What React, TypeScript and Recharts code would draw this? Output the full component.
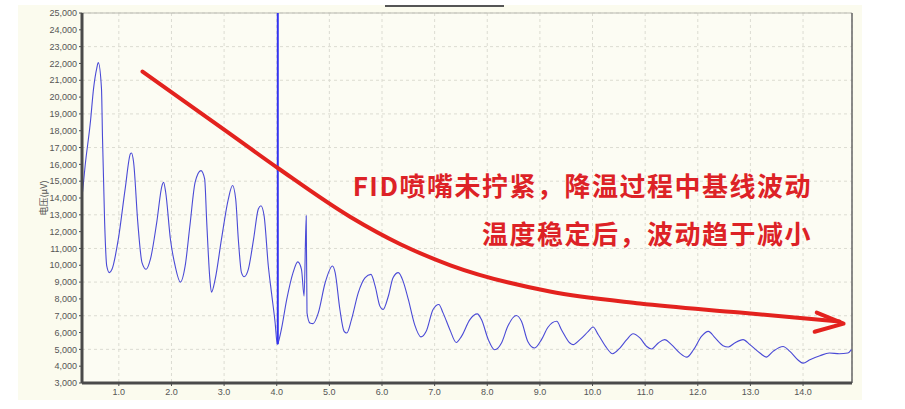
import React from "react";
import { LineChart, Line, XAxis, YAxis, CartesianGrid, ReferenceLine } from "recharts";

const times = [0.31,0.36,0.46,0.52,0.58,0.61,0.67,0.69,0.73,0.77,0.82,0.87,0.99,1.12,1.22,1.24,1.28,1.36,1.44,1.52,1.60,1.72,1.82,1.85,1.89,1.98,2.07,2.17,2.26,2.35,2.45,2.56,2.63,2.67,2.73,2.76,2.83,2.95,3.08,3.16,3.22,3.27,3.33,3.38,3.46,3.56,3.65,3.70,3.76,3.84,3.90,3.97,4.01,4.08,4.19,4.31,4.40,4.47,4.52,4.56,4.575,4.63,4.69,4.79,4.92,5.06,5.11,5.20,5.28,5.33,5.42,5.55,5.68,5.79,5.87,5.96,6.02,6.12,6.21,6.31,6.40,6.50,6.62,6.74,6.84,6.97,7.08,7.16,7.29,7.41,7.51,7.67,7.81,7.89,8.02,8.14,8.27,8.39,8.55,8.65,8.77,8.90,9.03,9.15,9.32,9.41,9.57,9.63,9.76,9.92,10.01,10.11,10.27,10.38,10.52,10.65,10.77,10.90,11.03,11.12,11.25,11.37,11.50,11.66,11.79,11.92,12.07,12.20,12.33,12.48,12.58,12.70,12.86,12.99,13.18,13.30,13.43,13.62,13.75,13.90,14.00,14.13,14.32,14.50,14.69,14.85,14.92];
const signal = [14340,15930,18530,20520,21710,22050,20520,17530,12550,9960,9560,9760,11550,14540,16630,16680,16140,12550,10160,9760,10360,12550,14740,14940,14340,11550,9960,9000,9960,12350,14940,15630,15140,12550,9160,8400,9160,11550,13940,14740,13940,11550,9560,9320,9760,11550,13350,13540,12940,9960,8370,6570,5300,6070,7970,9560,10200,9760,8160,12940,7170,6570,6530,7170,8960,9960,9560,7370,6070,5970,6770,8370,9260,9460,8760,7570,7370,8160,9260,9560,9060,7970,6470,5740,6070,7370,7670,7170,6170,5410,5770,6770,7110,6770,5580,4980,5380,6370,7010,6670,5470,5080,5580,6300,6670,6170,5380,5280,5580,6070,6330,5870,5080,4740,5080,5580,5930,5680,5170,5020,5380,5580,5280,4780,4540,4980,5770,6070,5680,5220,5140,5380,5580,5280,4780,4540,4880,5170,4880,4380,4180,4380,4620,4780,4740,4780,4980];

const arrowX = [1.45,3.06,4.04,5.40,6.35,7.30,9.19,10.90,12.80,14.69];
const arrowY = [21520,17930,15740,12870,11250,10000,8440,7730,7190,6650];
const headX = [14.26,14.77,14.22];
const headY = [7190,6530,6050];

const xTicks = [1,2,3,4,5,6,7,8,9,10,11,12,13,14];
const yTicks = [3000,4000,5000,6000,7000,8000,9000,10000,11000,12000,13000,14000,15000,16000,17000,18000,19000,20000,21000,22000,23000,24000,25000];

const markerTime = 4.02;
const markerBottom = 5300;
const xDomain: [number, number] = [0.3, 14.93];
const yDomain: [number, number] = [3000, 25000];

const yLabel = "电压(µV)";
const note1 = "FID喷嘴未拧紧，降温过程中基线波动";
const note2 = "温度稳定后，波动趋于减小";

const mainData = times.map((t, i) => ({ x: t, y: signal[i] }));
const arrowData = arrowX.map((t, i) => ({ x: t, y: arrowY[i] }));
const headData = headX.map((t, i) => ({ x: t, y: headY[i] }));

const tickStyle = { fontSize: 9, fill: "#555", fontFamily: "'Liberation Sans', Arial, sans-serif" };

export default function App() {
  return (
    <div style={{ position: "absolute", left: 0, top: 0, width: 905, height: 409, background: "#fff", overflow: "hidden" }}>
      <div style={{ position: "absolute", left: 18, top: 5, width: 844, height: 395, background: "#fbfbee" }} />
      <div style={{ position: "absolute", left: 385, top: 5, width: 119, height: 2, background: "#555" }} />
      <div style={{ position: "absolute", left: 0, top: 0 }}>
        <LineChart width={905} height={409} data={mainData} margin={{ top: 13, right: 53, left: 0, bottom: 6 }}>
          <CartesianGrid stroke="#dcdcd2" strokeDasharray="3 3" fill="#fcfcf3" />
          <XAxis
            dataKey="x"
            type="number"
            domain={xDomain}
            ticks={xTicks}
            allowDataOverflow
            tickFormatter={(v: number) => v.toFixed(1)}
            tick={tickStyle}
            tickSize={3}
            tickMargin={3}
            height={20}
            axisLine={{ stroke: "#4a4a4a", strokeWidth: 3 }}
            tickLine={{ stroke: "#4a4a4a" }}
          />
          <YAxis
            type="number"
            domain={yDomain}
            ticks={yTicks}
            allowDataOverflow
            tickFormatter={(v: number) => v.toLocaleString("en-US")}
            tick={tickStyle}
            tickSize={3}
            tickMargin={2}
            width={82}
            axisLine={{ stroke: "#4a4a4a", strokeWidth: 3 }}
            tickLine={{ stroke: "#4a4a4a" }}
          />
          <ReferenceLine y={25000} stroke="#b8b8b0" strokeWidth={1} />
          <ReferenceLine x={14.93} stroke="#666" strokeWidth={1.5} />
          <Line dataKey="y" type="monotone" stroke="#4a4ad6" strokeWidth={1.1} dot={false} isAnimationActive={false} />
          <ReferenceLine
            segment={[{ x: markerTime, y: 25000 }, { x: markerTime, y: markerBottom }]}
            stroke="#3434f0"
            strokeWidth={2}
          />
          <Line data={arrowData} dataKey="y" type="monotone" stroke="#e3221e" strokeWidth={4} dot={false} isAnimationActive={false} strokeLinecap="round" />
          <Line data={headData} dataKey="y" type="linear" stroke="#e3221e" strokeWidth={4} dot={false} isAnimationActive={false} strokeLinecap="round" strokeLinejoin="round" />
        </LineChart>
      </div>
      <div
        style={{
          position: "absolute",
          left: 43,
          top: 198,
          transform: "translate(-50%, -50%) rotate(-90deg)",
          fontSize: 9,
          color: "#555",
          fontFamily: "'Noto Sans CJK SC', sans-serif",
          whiteSpace: "nowrap",
        }}
      >
        {yLabel}
      </div>
      <div
        style={{
          position: "absolute",
          right: 93,
          top: 170,
          lineHeight: "30px",
          fontSize: 26,
          fontWeight: 700,
          letterSpacing: 1.5,
          color: "#dd2226",
          fontFamily: "'Noto Sans CJK SC', sans-serif",
          whiteSpace: "nowrap",
        }}
      >
        {note1}
      </div>
      <div
        style={{
          position: "absolute",
          right: 93,
          top: 218,
          lineHeight: "30px",
          fontSize: 26,
          fontWeight: 700,
          letterSpacing: 1.5,
          color: "#dd2226",
          fontFamily: "'Noto Sans CJK SC', sans-serif",
          whiteSpace: "nowrap",
        }}
      >
        {note2}
      </div>
    </div>
  );
}
